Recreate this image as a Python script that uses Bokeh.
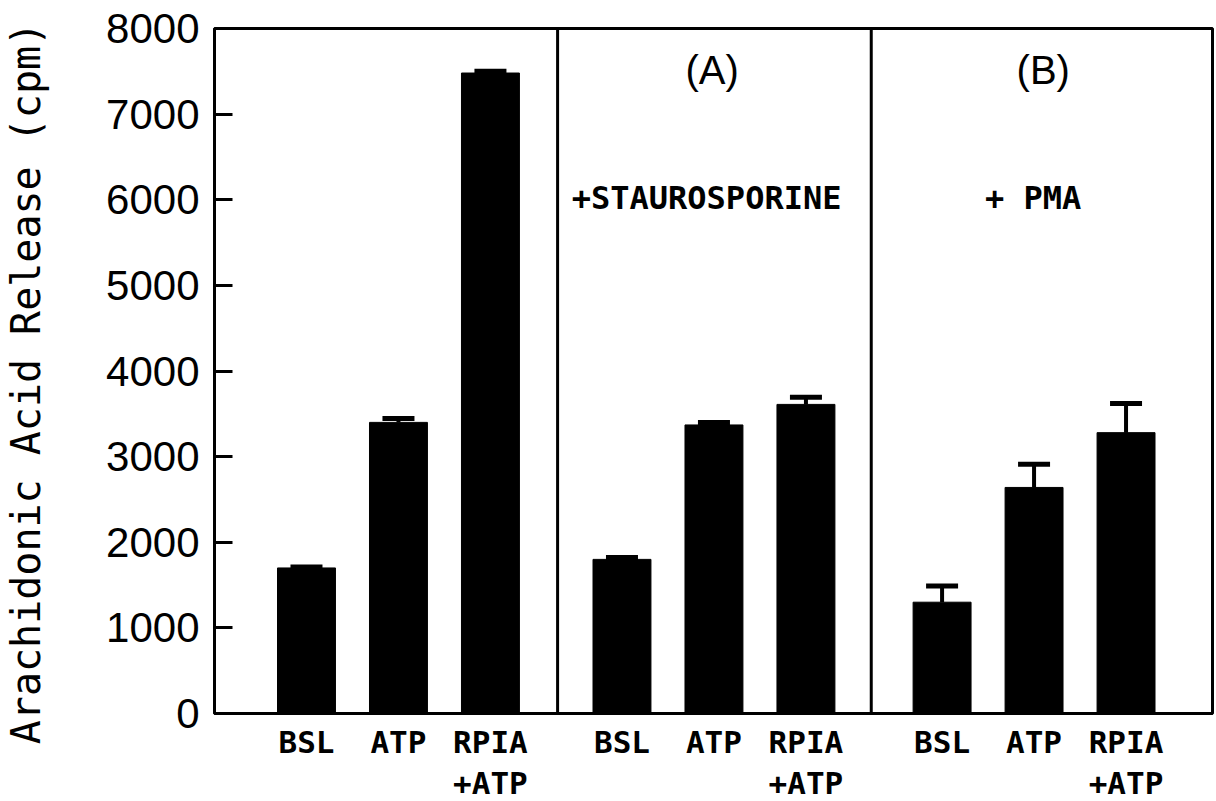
from bokeh.plotting import figure
from bokeh.models import ColumnDataSource, Whisker, Span, FixedTicker, Range1d, TeeHead
from bokeh.core.properties import value
from bokeh.embed import file_html
from bokeh.resources import INLINE

# ---- data ----
conditions = ["BSL", "ATP", "RPIA\n+ATP"]
panels = ["control", "(A)", "(B)"]
panel_notes = ["", "+STAUROSPORINE", "+ PMA"]
control_mean = [1700, 3400, 7480]
control_upper = [1710, 3445, 7500]
stauro_mean = [1800, 3370, 3610]
stauro_upper = [1822, 3400, 3692]
pma_mean = [1300, 2640, 3280]
pma_upper = [1490, 2910, 3620]
y_ticks = [0, 1000, 2000, 3000, 4000, 5000, 6000, 7000, 8000]

# ---- layout (positions in bar-spacing units) ----
panel_offsets = [0.0, 3.43, 6.91]
panel_dividers = [3.73, 7.14]
x_max = 10.85
bar_width = 0.63

xs, tops, uppers, labels = [], [], [], []
for off, means, ups in zip(panel_offsets, [control_mean, stauro_mean, pma_mean],
                           [control_upper, stauro_upper, pma_upper]):
    for i, (m, u) in enumerate(zip(means, ups)):
        xs.append(off + i + 1)
        tops.append(m)
        uppers.append(u)
        labels.append(conditions[i])

src = ColumnDataSource(dict(x=xs, top=tops, upper=uppers, base=tops))

p = figure(frame_width=998, frame_height=685, output_backend="svg", toolbar_location=None,
           x_range=Range1d(0, x_max), y_range=Range1d(0, 8000),
           min_border_left=212, min_border_right=6, min_border_top=28, min_border_bottom=80)
p.background_fill_color = "white"
p.border_fill_color = "white"
p.grid.visible = False
p.outline_line_color = "black"
p.outline_line_width = 3
p.outline_line_alpha = 1.0

p.vbar(x="x", top="top", bottom=0, width=bar_width, source=src,
       fill_color="black", line_color="black")

w = Whisker(base="x", upper="upper", lower="base", source=src, dimension="height",
            line_color="black", line_width=4,
            upper_head=TeeHead(size=32, line_color="black", line_width=5),
            lower_head=None)
p.add_layout(w)

for d in panel_dividers:
    p.add_layout(Span(location=d, dimension="height", line_color="black", line_width=3))

# panel annotations
mid_x = [off + 2 for off in panel_offsets]
p.text(x=[mid_x[1] - 0.02, mid_x[2] + 0.1], y=[7520, 7520], text=[panels[1], panels[2]],
       text_font=value("Liberation Sans"), text_font_size="40px",
       text_align="center", text_baseline="middle", text_color="black")
p.text(x=[mid_x[1] - 0.08, mid_x[2] - 0.01], y=[6020, 6020], text=[panel_notes[1], panel_notes[2]],
       text_font=value("DejaVu Sans Mono"), text_font_style="bold", text_font_size="32px",
       text_align="center", text_baseline="middle", text_color="black")

# x axis
xa = p.xaxis[0]
xa.ticker = FixedTicker(ticks=xs)
xa.major_label_overrides = {x: lab for x, lab in zip(xs, labels)}
xa.major_tick_line_color = None
xa.minor_tick_line_color = None
xa.axis_line_width = 3
xa.major_label_text_font = "DejaVu Sans Mono"
xa.major_label_text_font_style = "bold"
xa.major_label_text_font_size = "31px"
xa.major_label_text_line_height = 1.15
xa.major_label_standoff = 4
xa.major_label_text_color = "black"

# y axis
ya = p.yaxis[0]
ya.ticker = FixedTicker(ticks=y_ticks)
ya.major_tick_in = 18
ya.major_tick_out = 0
ya.major_tick_line_width = 3
ya.minor_tick_line_color = None
ya.axis_line_width = 3
ya.major_label_text_font = "Liberation Sans"
ya.major_label_text_font_size = "42px"
ya.major_label_standoff = 15
ya.major_label_text_color = "black"
ya.axis_label = "Arachidonic Acid Release  (cpm)"
ya.axis_label_text_font = "DejaVu Sans Mono"
ya.axis_label_text_font_style = "normal"
ya.axis_label_text_font_size = "40px"
ya.axis_label_standoff = 54
ya.axis_label_text_color = "black"

open("out.html", "w").write(file_html(p, INLINE))
